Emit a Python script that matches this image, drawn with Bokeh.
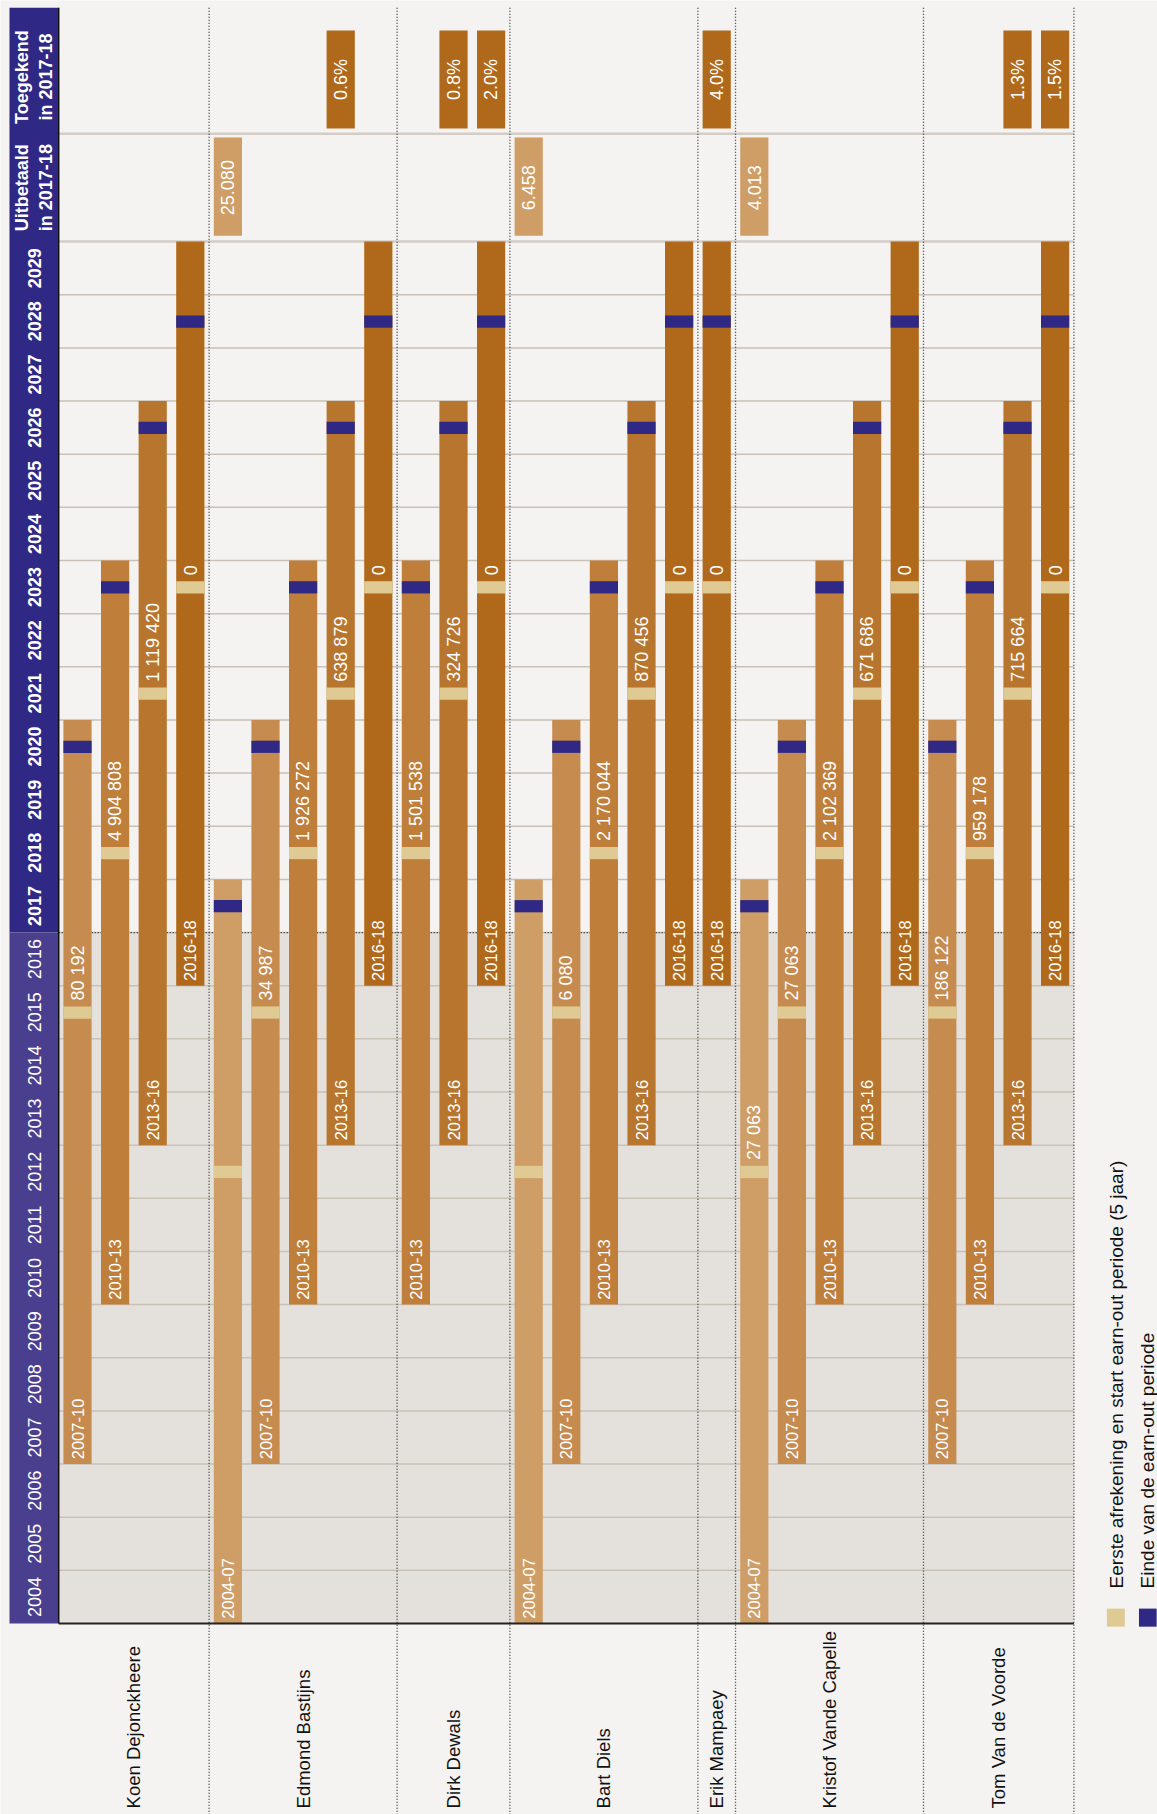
import math
from bokeh.plotting import figure
from bokeh.models import Range1d
from bokeh.core.properties import value
from bokeh.embed import file_html
from bokeh.resources import INLINE

# ---------------- data ----------------
persons = ["Koen Dejonckheere", "Edmond Bastijns", "Dirk Dewals", "Bart Diels",
           "Erik Mampaey", "Kristof Vande Capelle", "Tom Van de Voorde"]

koen_plans = ["2007-10", "2010-13", "2013-16", "2016-18"]
koen_values = ["80 192", "4 904 808", "1 119 420", "0"]
edmond_plans = ["2004-07", "2007-10", "2010-13", "2013-16", "2016-18"]
edmond_values = ["", "34 987", "1 926 272", "638 879", "0"]
dirk_plans = ["2010-13", "2013-16", "2016-18"]
dirk_values = ["1 501 538", "324 726", "0"]
bart_plans = ["2004-07", "2007-10", "2010-13", "2013-16", "2016-18"]
bart_values = ["", "6 080", "2 170 044", "870 456", "0"]
erik_plans = ["2016-18"]
erik_values = ["0"]
kristof_plans = ["2004-07", "2007-10", "2010-13", "2013-16", "2016-18"]
kristof_values = ["27 063", "27 063", "2 102 369", "671 686", "0"]
tom_plans = ["2007-10", "2010-13", "2013-16", "2016-18"]
tom_values = ["186 122", "959 178", "715 664", "0"]

person_plans = [koen_plans, edmond_plans, dirk_plans, bart_plans,
                erik_plans, kristof_plans, tom_plans]
person_values = [koen_values, edmond_values, dirk_values, bart_values,
                 erik_values, kristof_values, tom_values]

plan_names = ["2004-07", "2007-10", "2010-13", "2013-16", "2016-18"]
plan_start = [2004, 2007, 2010, 2013, 2016]
plan_first_settlement = [2012, 2015, 2018, 2021, 2023]
plan_end_earnout = [2017, 2020, 2023, 2026, 2028]
plan_last_year = [2017, 2020, 2023, 2026, 2029]

paid_person = ["Edmond Bastijns", "Bart Diels", "Kristof Vande Capelle"]
paid_plan = ["2004-07", "2004-07", "2004-07"]
paid_value = ["25.080", "6.458", "4.013"]

granted_person = ["Edmond Bastijns", "Dirk Dewals", "Dirk Dewals",
                  "Erik Mampaey", "Tom Van de Voorde", "Tom Van de Voorde"]
granted_plan = ["2013-16", "2013-16", "2016-18", "2016-18", "2013-16", "2016-18"]
granted_value = ["0.6%", "0.8%", "2.0%", "4.0%", "1.3%", "1.5%"]

years = list(range(2004, 2030))
legend_labels = ["Eerste afrekening en start earn-out periode (5 jaar)",
                 "Einde van de earn-out periode"]

# ---------------- styles ----------------
plan_colors = {"2004-07": "#CF9E66", "2007-10": "#C68B4F", "2010-13": "#BF7E3A",
               "2013-16": "#B8752D", "2016-18": "#B0691A"}
BG = "#F4F3F1"
PAST_BG = "#E4E0DC"
GRID = "#C9C1B6"
NAVY = "#2F2884"
PURPLE = "#4A3F8E"
BEIGE = "#DECA92"
FONT = value("Liberation Sans")

# ---------------- layout (slot units on x, years on y) ----------------
slot_index = {}
slots = []
region_bounds = []
s = 0
for person, plans, vals in zip(persons, person_plans, person_values):
    first = s
    for pl, v in zip(plans, vals):
        slot_index[(person, pl)] = s
        slots.append((s, pl, v))
        s += 1
    region_bounds.append((first, s))
n_slots = s

X0, X1 = -1.548, 29.223
Y0, Y1 = 2000.406, 2034.536
TOP = 2034.40
HDR1 = 2030.0
HDR2 = 2032.03
NOW = 2017

p = figure(width=1157, height=1814, x_range=Range1d(X0, X1), y_range=Range1d(Y0, Y1),
           output_backend="svg", toolbar_location=None, min_border=0,
           background_fill_color=BG, border_fill_color=BG)
p.axis.visible = False
p.grid.visible = False
p.outline_line_color = None

# past background
p.quad(left=[0], right=[n_slots], bottom=[years[0]], top=[NOW], fill_color=PAST_BG, line_color=None)

# year grid lines
p.segment(x0=[0] * (len(years) - 1), x1=[n_slots] * (len(years) - 1),
          y0=years[1:], y1=years[1:], line_color=GRID, line_width=1.5)
p.segment(x0=[0, 0], x1=[n_slots, n_slots], y0=[HDR1, HDR2], y1=[HDR1, HDR2],
          line_color="#D3CDC6", line_width=2.5)

# header band
p.quad(left=[-1.309], right=[0], bottom=[NOW], top=[TOP], fill_color=NAVY, line_color=None)
p.quad(left=[-1.309], right=[0], bottom=[years[0]], top=[NOW], fill_color=PURPLE, line_color=None)

# dotted line at now
p.segment(x0=[0], x1=[n_slots], y0=[NOW], y1=[NOW], line_color="#222222",
          line_width=1.3, line_dash="1 2")

# separators
sep_x = [b[1] for b in region_bounds]
p.segment(x0=sep_x, x1=sep_x, y0=[TOP] * len(sep_x), y1=[Y0] * len(sep_x),
          line_color="#333333", line_width=1.3, line_dash="1 2")

# plan bars
bx, bb, bt, bc = [], [], [], []
band_x, beige_y, navy_y = [], [], []
vt_x, vt_y, vt_t = [], [], []
lt_x, lt_y, lt_t = [], [], []
for sl, pl, v in slots:
    i = plan_names.index(pl)
    bx.append(sl + 0.5)
    bb.append(plan_start[i])
    bt.append(plan_last_year[i] + 1)
    bc.append(plan_colors[pl])
    band_x.append(sl + 0.5)
    beige_y.append(plan_first_settlement[i])
    navy_y.append(plan_end_earnout[i])
    if v:
        vt_x.append(sl + 0.5)
        vt_y.append(plan_first_settlement[i] + 0.72)
        vt_t.append(v)
    lt_x.append(sl + 0.5)
    lt_y.append(plan_start[i] + 0.09)
    lt_t.append(pl)

p.vbar(x=bx, width=0.75, bottom=bb, top=bt, fill_color=bc, line_color=None)
p.vbar(x=band_x, width=0.75, bottom=[y + 0.38 for y in beige_y], top=[y + 0.61 for y in beige_y],
       fill_color=BEIGE, line_color=None)
p.vbar(x=band_x, width=0.75, bottom=[y + 0.38 for y in navy_y], top=[y + 0.61 for y in navy_y],
       fill_color=NAVY, line_color=None)

p.text(x=vt_x, y=vt_y, text=vt_t, angle=math.pi / 2, text_align="left", text_baseline="middle",
       text_color="#FFFFFF", text_font=FONT, text_font_size="18px")
p.text(x=lt_x, y=lt_y, text=lt_t, angle=math.pi / 2, text_align="left", text_baseline="middle",
       text_color="#FFFFFF", text_font=FONT, text_font_size="16.5px")

# paid in 2017-18
px_ = [slot_index[(a, b)] + 0.5 for a, b in zip(paid_person, paid_plan)]
p.vbar(x=px_, width=0.75, bottom=HDR1 + 0.11, top=HDR2 - 0.07, fill_color=plan_colors["2004-07"], line_color=None)
p.text(x=px_, y=[(HDR1 + HDR2) / 2] * len(px_), text=paid_value, angle=math.pi / 2,
       text_align="center", text_baseline="middle", text_color="#FFFFFF", text_font=FONT,
       text_font_size="18px")

# granted in 2017-18
gx = [slot_index[(a, b)] + 0.5 for a, b in zip(granted_person, granted_plan)]
p.vbar(x=gx, width=0.75, bottom=HDR2 + 0.1, top=TOP - 0.43, fill_color=plan_colors["2016-18"], line_color=None)
p.text(x=gx, y=[(HDR2 + 0.1 + TOP - 0.43) / 2] * len(gx), text=granted_value, angle=math.pi / 2,
       text_align="center", text_baseline="middle", text_color="#FFFFFF", text_font=FONT,
       text_font_size="18px")

# year labels
p.text(x=[-0.644] * len(years), y=[y + 0.5 for y in years], text=[str(y) for y in years],
       angle=math.pi / 2, text_align="center", text_baseline="middle", text_color="#FFFFFF",
       text_font=FONT, text_font_size="18px",
       text_font_style=["bold" if y >= NOW else "normal" for y in years])

# header labels
hy_paid = (HDR1 + HDR2) / 2
hy_grant = (HDR2 + TOP) / 2 - 0.12
p.text(x=[-0.963, -0.351, -0.963, -0.351], y=[hy_paid, hy_paid, hy_grant, hy_grant],
       text=["Uitbetaald", "in 2017-18", "Toegekend", "in 2017-18"], angle=math.pi / 2,
       text_align="center", text_baseline="middle", text_color="#FFFFFF", text_font=FONT,
       text_font_size="18px", text_font_style="bold")

# axis lines
p.segment(x0=[0], x1=[n_slots], y0=[years[0]], y1=[years[0]], line_color="#222222", line_width=2)
p.segment(x0=[0], x1=[0], y0=[years[0]], y1=[TOP], line_color="#111111", line_width=1.5)

# person names
name_x = [(a + b) / 2 for a, b in region_bounds]
p.text(x=name_x, y=[2000.52] * len(persons), text=persons, angle=math.pi / 2,
       text_align="left", text_baseline="middle", text_color="#111111", text_font=FONT,
       text_font_size="18.5px")

# legend
p.quad(left=[27.876, 28.73], right=[28.354, 29.2], bottom=[2003.94, 2003.94], top=[2004.28, 2004.28],
       fill_color=[BEIGE, NAVY], line_color=None)
p.text(x=[28.14, 28.96], y=[2004.66, 2004.66], text=legend_labels, angle=math.pi / 2,
       text_align="left", text_baseline="middle", text_color="#111111", text_font=FONT,
       text_font_size="19px")

open("out.html", "w").write(file_html(p, INLINE))
